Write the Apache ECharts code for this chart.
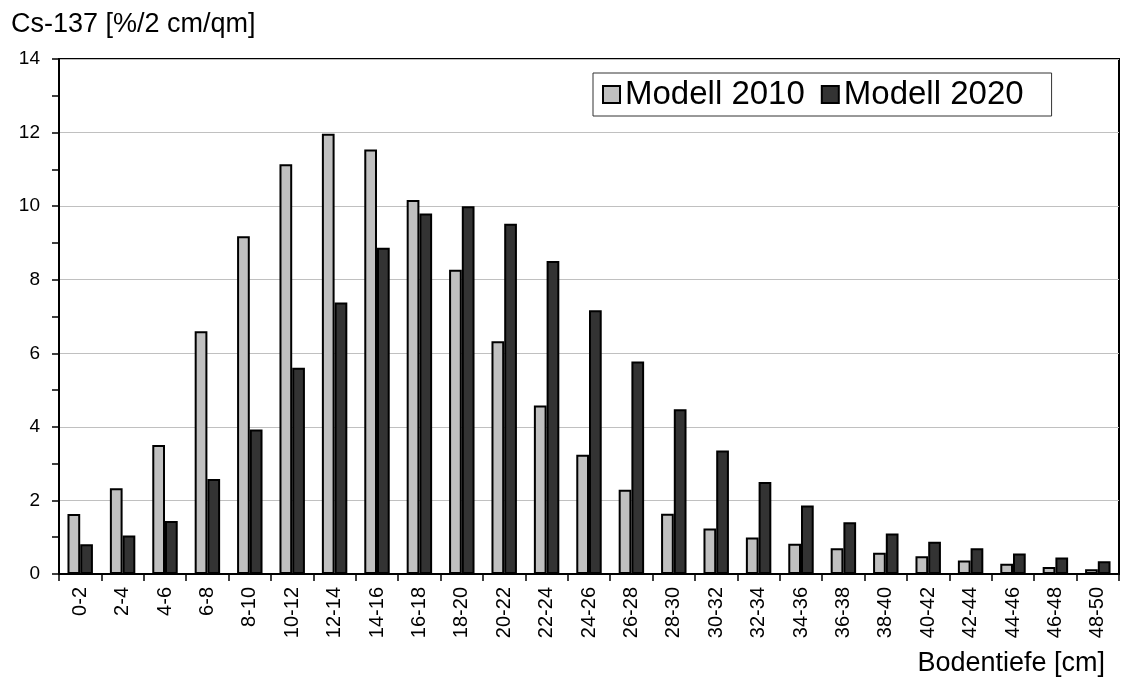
<!DOCTYPE html>
<html>
<head>
<meta charset="utf-8">
<script src="https://cdn.jsdelivr.net/npm/echarts@6/dist/echarts.min.js"></script>
<style>
html,body{margin:0;padding:0;background:#fff;}
#c{width:1122px;height:684px;}
</style>
</head>
<body>
<div id="c"></div>
<script>
const categories = ['0-2','2-4','4-6','6-8','8-10','10-12','12-14','14-16','16-18','18-20','20-22','22-24','24-26','26-28','28-30','30-32','32-34','34-36','36-38','38-40','40-42','42-44','44-46','46-48','48-50'];
const modell2010 = [1.63, 2.33, 3.51, 6.6, 9.18, 11.14, 11.97, 11.54, 10.17, 8.27, 6.33, 4.58, 3.24, 2.29, 1.64, 1.24, 0.99, 0.82, 0.70, 0.58, 0.48, 0.37, 0.28, 0.19, 0.13];
const modell2020 = [0.81, 1.05, 1.44, 2.58, 3.93, 5.61, 7.38, 8.87, 9.8, 10.0, 9.52, 8.51, 7.17, 5.78, 4.48, 3.36, 2.5, 1.86, 1.41, 1.10, 0.88, 0.70, 0.56, 0.45, 0.35];
const yMin = 0, yMax = 14, yInterval = 2;
const seriesNames = ['Modell 2010', 'Modell 2020'];
const yTitle = 'Cs-137 [%/2 cm/qm]';
const xTitle = 'Bodentiefe [cm]';

const FONT = '"Liberation Sans", Arial, sans-serif';
const chart = echarts.init(document.getElementById('c'), null, {renderer: 'canvas'});
chart.setOption({
  animation: false,
  backgroundColor: '#fff',
  textStyle: {fontFamily: FONT, color: '#000'},
  grid: {left: 59, right: 3, top: 59, bottom: 110, show: true, borderColor: '#000', borderWidth: 2, backgroundColor: 'transparent'},
  legend: {
    data: seriesNames,
    left: 593, top: 73,
    orient: 'horizontal',
    borderColor: '#333', borderWidth: 1,
    padding: [5, 28, 5, 9],
    itemWidth: 17, itemHeight: 17, itemGap: 16,
    icon: 'rect',
    textStyle: {fontSize: 33, fontFamily: FONT, color: '#000'}
  },
  xAxis: {
    type: 'category',
    data: categories,
    boundaryGap: true,
    axisLine: {show: true, lineStyle: {color: '#000', width: 2}},
    axisTick: {show: true, alignWithLabel: false, length: 7, lineStyle: {color: '#000', width: 1.5}},
    axisLabel: {rotate: 90, interval: 0, margin: 13, fontSize: 20, color: '#000', fontFamily: FONT},
    splitLine: {show: false}
  },
  yAxis: {
    type: 'value',
    min: yMin, max: yMax, interval: yInterval,
    axisLine: {show: true, lineStyle: {color: '#000', width: 2}},
    axisTick: {show: true, inside: false, length: 7, lineStyle: {color: '#000', width: 1.5}},
    minorTick: {show: true, splitNumber: 2, length: 7, lineStyle: {color: '#000', width: 1.5}},
    minorSplitLine: {show: false},
    axisLabel: {fontSize: 19, margin: 19, color: '#000', fontFamily: FONT},
    splitLine: {show: true, lineStyle: {color: '#c0c0c0', width: 1}}
  },
  series: [
    {name: seriesNames[0], type: 'bar', data: modell2010, barGap: '0%', barCategoryGap: '40%',
     itemStyle: {color: '#c0c0c0', borderColor: '#000', borderWidth: 2}},
    {name: seriesNames[1], type: 'bar', data: modell2020, barGap: '0%', barCategoryGap: '40%',
     itemStyle: {color: '#333333', borderColor: '#000', borderWidth: 2}}
  ],
  graphic: [
    {type: 'text', left: 11, top: 11, style: {text: yTitle, font: '27px ' + FONT, fill: '#000'}},
    {type: 'text', right: 17, top: 650, style: {text: xTitle, font: '27px ' + FONT, fill: '#000'}}
  ]
});
</script>
</body>
</html>
